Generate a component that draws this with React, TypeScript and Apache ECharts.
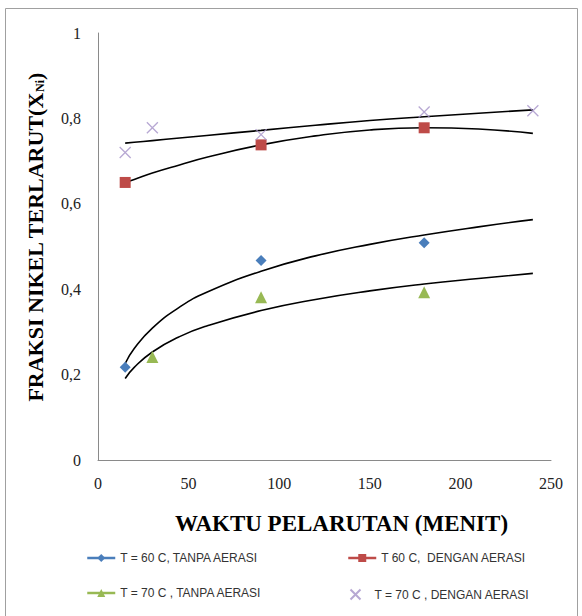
import React, { useEffect, useRef } from "react";
import * as echarts from "echarts";

// Measured series (time in minutes, nickel fraction)
const timeBlue = [15, 90, 180];
const valBlue = [0.217, 0.467, 0.509];
const timeRed = [15, 90, 180];
const valRed = [0.65, 0.738, 0.778];
const timeGreen = [30, 90, 180];
const valGreen = [0.241, 0.381, 0.393];
const timePurple = [15, 30, 90, 180, 240];
const valPurple = [0.72, 0.778, 0.762, 0.815, 0.818];

// Trend lines
const trendTime = [15, 20, 30, 45, 60, 90, 120, 150, 180, 210, 240];
const trendBlue = [0.226, 0.261, 0.309, 0.358, 0.393, 0.442, 0.478, 0.505, 0.527, 0.546, 0.563];
const trendGreen = [0.191, 0.217, 0.253, 0.289, 0.314, 0.35, 0.376, 0.396, 0.412, 0.425, 0.437];
const trendRed = [0.65, 0.657, 0.672, 0.691, 0.709, 0.738, 0.759, 0.773, 0.778, 0.775, 0.765];
const trendPurple = [0.742, 0.744, 0.748, 0.754, 0.76, 0.772, 0.784, 0.795, 0.804, 0.812, 0.82];

const names = [
  "T = 60 C, TANPA AERASI",
  "T 60 C,  DENGAN AERASI",
  "T = 70 C , TANPA AERASI",
  "T = 70 C , DENGAN AERASI",
];
const colors = ["#4a7ebb", "#be4b48", "#98b954", "#a592c8"];
const xTicks = { min: 0, max: 250, interval: 50 };
const yTicks = { min: 0, max: 1, interval: 0.2 };

const pairs = (xs: number[], ys: number[]) => xs.map((x, i) => [x, ys[i]]);
const X_PATH = "path://M0,0L10,10M10,0L0,10";

export default function App() {
  const ref = useRef<HTMLDivElement>(null);
  useEffect(() => {
    if (!ref.current) return;
    const chart = echarts.init(ref.current, undefined, { renderer: "svg" });
    const serif = "'Liberation Serif', 'Times New Roman', serif";
    const sans = "'Liberation Sans', Arial, sans-serif";
    const markerSeries = (i: number, xs: number[], ys: number[], symbol: string, size: number) => ({
      name: names[i],
      type: "line",
      data: pairs(xs, ys),
      symbol,
      symbolSize: size,
      showSymbol: true,
      lineStyle: { opacity: 0, width: 0 },
      itemStyle: { color: colors[i] },
      z: 3,
    });
    const trend = (ys: number[]) => ({
      type: "line",
      data: pairs(trendTime, ys),
      smooth: true,
      showSymbol: false,
      symbol: "none",
      silent: true,
      lineStyle: { color: "#000", width: 1.6 },
      z: 2,
    });
    const legendPos = [
      { left: 81, top: 547 },
      { left: 342, top: 547 },
      { left: 81, top: 582 },
      { left: 343, top: 582 },
    ];
    const legends = names.map((n, i) => ({
      show: true,
      left: legendPos[i].left,
      top: legendPos[i].top,
      itemWidth: 28,
      itemHeight: 10,
      itemGap: 5,
      textStyle: { fontFamily: sans, fontSize: 12, color: "#333" },
      data: [
        i === 3
          ? { name: n }
          : { name: n, lineStyle: { color: colors[i], width: 2.5, opacity: 1, type: "solid" } },
      ],
    }));
    chart.setOption({
      animation: false,
      backgroundColor: "#fff",
      legend: legends,
      graphic: [
        {
          type: "rect",
          shape: { x: 5.5, y: 8.5, width: 572, height: 620 },
          style: { fill: "none", stroke: "#a0a0a0", lineWidth: 1 },
          silent: true,
        },
      ],
      grid: { left: 98, top: 33, width: 453, height: 427, containLabel: false },
      xAxis: {
        type: "value",
        ...xTicks,
        name: "WAKTU PELARUTAN (MENIT)",
        nameLocation: "middle",
        nameGap: 52,
        nameTextStyle: {
          fontFamily: serif,
          fontWeight: "bold",
          fontSize: 23,
          color: "#000",
          padding: [0, 0, 0, 34],
        },
        axisLine: { show: true, lineStyle: { color: "#8a8a8a", width: 1 } },
        axisTick: { show: false },
        splitLine: { show: false },
        axisLabel: { fontFamily: serif, fontSize: 16, color: "#222", margin: 15 },
      },
      yAxis: {
        type: "value",
        ...yTicks,
        name: "{a|FRAKSI NIKEL TERLARUT(X}{s|Ni}{a|)}",
        nameLocation: "middle",
        nameRotate: 90,
        nameGap: 52,
        nameTextStyle: {
          padding: [0, 0, 0, 18],
          rich: {
            a: { fontFamily: serif, fontWeight: "bold", fontSize: 22, color: "#000" },
            s: {
              fontFamily: serif,
              fontWeight: "bold",
              fontSize: 12,
              color: "#000",
              verticalAlign: "bottom",
              padding: [8, 0, 0, 0],
            },
          },
        },
        axisLine: { show: true, lineStyle: { color: "#8a8a8a", width: 1 } },
        axisTick: { show: false },
        splitLine: { show: false },
        axisLabel: {
          fontFamily: serif,
          fontSize: 16,
          color: "#222",
          margin: 17,
          formatter: (v: number) => String(Math.round(v * 10) / 10).replace(".", ","),
        },
      },
      series: [
        trend(trendBlue),
        trend(trendRed),
        trend(trendGreen),
        trend(trendPurple),
        markerSeries(0, timeBlue, valBlue, "diamond", 11),
        markerSeries(1, timeRed, valRed, "rect", 11),
        markerSeries(2, timeGreen, valGreen, "triangle", 12),
        {
          name: names[3],
          type: "scatter",
          data: pairs(timePurple, valPurple),
          symbol: X_PATH,
          symbolSize: 11,
          itemStyle: { color: "none", borderColor: colors[3], borderWidth: 1.3 },
          z: 3,
        },
      ],
    });
    return () => chart.dispose();
  }, []);
  return (
    <div
      ref={ref}
      style={{ position: "fixed", left: 0, top: 0, width: 582, height: 616, background: "#fff" }}
    />
  );
}
